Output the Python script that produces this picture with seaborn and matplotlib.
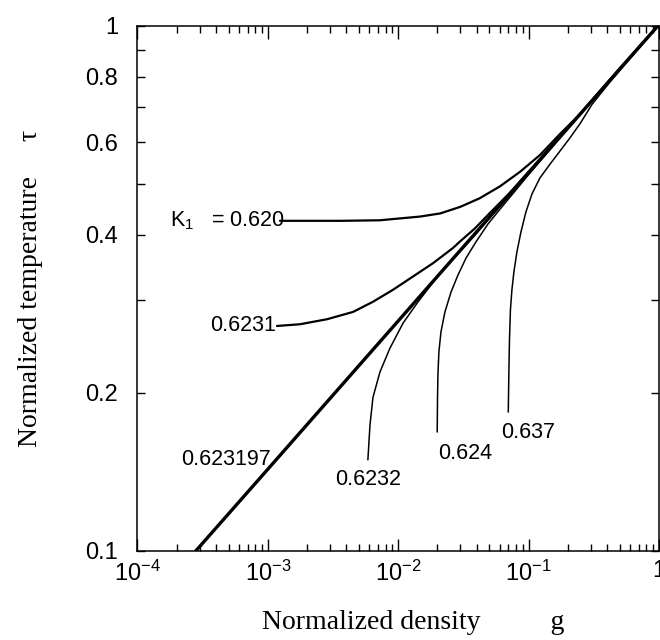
import matplotlib
matplotlib.use("Agg")
import matplotlib.pyplot as plt
import matplotlib.ticker as mticker
import pandas as pd
import seaborn as sns

# values (log-log, g vs tau)
g_623197 = [2.8e-4, 1e-3, 1e-2, 1e-1, 1.0]
tau_623197 = [0.0999, 0.143, 0.274, 0.525, 1.005]

g_620 = [1.24e-3, 3.6e-3, 7.2e-3, 0.0147, 0.021, 0.030, 0.042, 0.060, 0.086, 0.122, 0.174, 0.25, 0.50, 0.98]
tau_620 = [0.425, 0.425, 0.426, 0.433, 0.439, 0.452, 0.469, 0.494, 0.527, 0.567, 0.622, 0.68, 0.83, 1.0]

g_6231 = [1.175e-3, 1.76e-3, 2.84e-3, 4.5e-3, 6.4e-3, 9.1e-3, 0.013, 0.0185, 0.0262, 0.0297, 0.0387,
          0.0505, 0.072, 0.15, 0.40, 0.98]
tau_6231 = [0.268, 0.270, 0.276, 0.285, 0.298, 0.314, 0.333, 0.353, 0.377, 0.388, 0.411,
            0.440, 0.481, 0.590, 0.777, 1.0]

g_6232 = [5.85e-3, 6.07e-3, 6.4e-3, 7.24e-3, 8.63e-3, 0.0109, 0.0142, 0.0191, 0.0262, 0.0387, 0.060, 0.10, 0.30, 0.98]
tau_6232 = [0.149, 0.1735, 0.196, 0.219, 0.243, 0.2715, 0.298, 0.328, 0.359, 0.399, 0.453, 0.524, 0.715, 1.0]

g_624 = [0.0199, 0.0200, 0.02015, 0.0205, 0.02126, 0.0228, 0.0254, 0.0287, 0.0331, 0.0394, 0.0488,
         0.0602, 0.0785, 0.1023, 0.1334, 0.174, 0.247, 0.501, 0.98]
tau_624 = [0.1683, 0.1937, 0.2162, 0.239, 0.261, 0.2849, 0.311, 0.335, 0.3609, 0.3873, 0.4192,
           0.447, 0.484, 0.524, 0.566, 0.612, 0.677, 0.826, 1.0]

g_637 = [0.0698, 0.0706, 0.0713, 0.0725, 0.0744, 0.0771, 0.0813, 0.0873, 0.0953, 0.106, 0.122,
         0.146, 0.174, 0.207, 0.247, 0.306, 0.420, 0.598, 0.98]
tau_637 = [0.1837, 0.2209, 0.2519, 0.2873, 0.3137, 0.3396, 0.3707, 0.4046, 0.4417, 0.4779, 0.5128,
           0.5451, 0.5771, 0.611, 0.6498, 0.708, 0.781, 0.866, 1.0]

curve_names = ["0.623197", "0.620", "0.6231", "0.6232", "0.624", "0.637"]
curve_widths = [2.4, 1.6, 1.6, 1.1, 1.1, 1.1]

# curve labels: text, g, tau, alignment
label_texts = ["K$_1$   = 0.620", "0.6231", "0.623197", "0.6232", "0.624", "0.637"]
label_g = [1.36e-3, 1.15e-3, 4.8e-4, 5.9e-3, 0.0325, 0.099]
label_tau = [0.425, 0.268, 0.149, 0.1364, 0.1535, 0.168]
label_ha = ["right", "right", "center", "center", "center", "center"]

x_major = [1e-4, 1e-3, 1e-2, 1e-1, 1.0]
x_major_labels = ["$10^{-4}$", "$10^{-3}$", "$10^{-2}$", "$10^{-1}$", "1"]
y_major = [0.1, 0.2, 0.4, 0.6, 0.8, 1.0]
y_major_labels = ["0.1", "0.2", "0.4", "0.6", "0.8", "1"]
y_minor = [0.3, 0.5, 0.7, 0.9]

frames = []
for name, g, t in zip(
    curve_names,
    [g_623197, g_620, g_6231, g_6232, g_624, g_637],
    [tau_623197, tau_620, tau_6231, tau_6232, tau_624, tau_637],
):
    frames.append(pd.DataFrame({"g": g, "tau": t, "K1": name}))
df = pd.concat(frames, ignore_index=True)

sns.set_theme(style="ticks")
plt.rcParams["font.family"] = ["Liberation Sans", "DejaVu Sans"]
plt.rcParams["mathtext.fontset"] = "custom"
plt.rcParams["mathtext.rm"] = "Liberation Sans"
plt.rcParams["mathtext.it"] = "Liberation Sans"

fig = plt.figure(figsize=(6.6, 6.4), dpi=100)
ax = fig.add_axes([0.2083, 0.1395, 0.7902, 0.8203])

for name, lw in zip(curve_names, curve_widths):
    sns.lineplot(
        data=df[df["K1"] == name], x="g", y="tau", ax=ax,
        color="black", linewidth=lw, estimator=None, sort=False, legend=False,
    )

ax.set_xscale("log")
ax.set_yscale("log")
ax.set_xlim(1e-4, 1.0)
ax.set_ylim(0.1, 1.0)

ax.xaxis.set_major_locator(mticker.FixedLocator(x_major))
ax.xaxis.set_major_formatter(mticker.FixedFormatter(x_major_labels))
ax.xaxis.set_minor_locator(mticker.LogLocator(base=10, subs=range(2, 10), numticks=20))
ax.xaxis.set_minor_formatter(mticker.NullFormatter())
ax.yaxis.set_major_locator(mticker.FixedLocator(y_major))
ax.yaxis.set_major_formatter(mticker.FixedFormatter(y_major_labels))
ax.yaxis.set_minor_locator(mticker.FixedLocator(y_minor))
ax.yaxis.set_minor_formatter(mticker.NullFormatter())

ax.tick_params(axis="both", which="both", direction="in", top=True, right=True,
               color="black", width=1.0, labelsize=17, labelcolor="black")
ax.tick_params(axis="x", which="major", length=9, pad=7)
ax.tick_params(axis="x", which="minor", length=5)
ax.tick_params(axis="y", which="both", length=6, pad=14)
for side in ["left", "right", "top", "bottom"]:
    ax.spines[side].set_color("black")
    ax.spines[side].set_linewidth(1.1)

for txt, gx, ty, ha in zip(label_texts, label_g, label_tau, label_ha):
    ax.text(gx, ty, txt, ha=ha, va="center", fontsize=15.5, color="black")

serif = ["Liberation Serif", "DejaVu Serif"]
ax.set_xlabel("Normalized density          g", family=serif, fontsize=20, color="black")
ax.set_ylabel("Normalized temperature     \u03c4", family=serif, fontsize=20, color="black")
ax.xaxis.set_label_coords(0.528, -0.112)
ax.yaxis.set_label_coords(-0.182, 0.5)

fig.savefig("out.png", dpi=100, facecolor="white")
